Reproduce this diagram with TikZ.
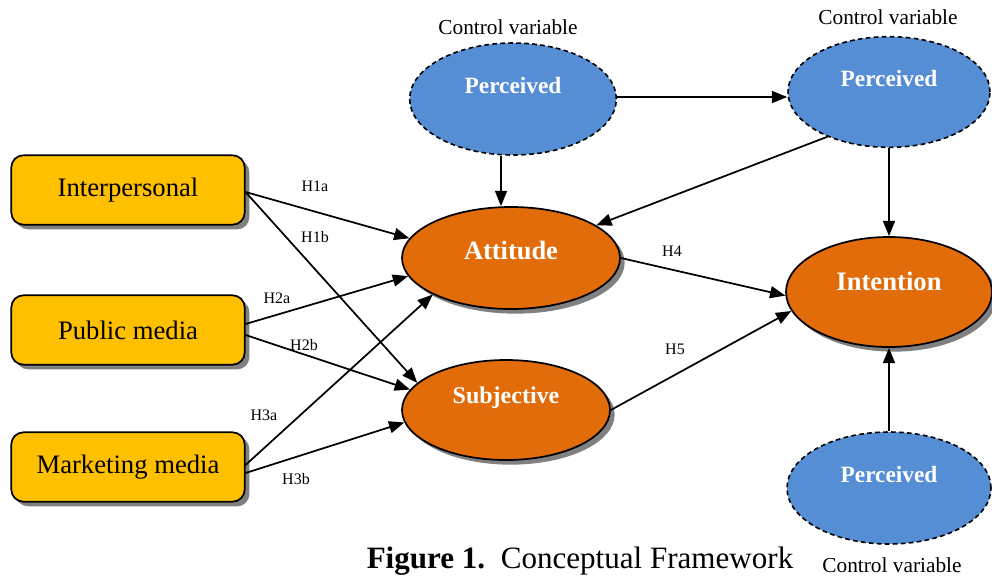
\documentclass[tikz,border=0pt]{standalone}
\usepackage{fontspec}
\setmainfont{Liberation Serif}
\usetikzlibrary{shapes.geometric,arrows.meta,shadows}
\definecolor{boxfill}{HTML}{FFC000}
\definecolor{orangefill}{HTML}{E36C0A}
\definecolor{bluefill}{HTML}{558ED5}
\definecolor{shadowgray}{HTML}{808080}
\begin{document}
\begin{tikzpicture}[x=0.75pt,y=-0.75pt,
  shad/.style={drop shadow={shadow xshift=3.5pt,shadow yshift=-3.5pt,fill=shadowgray,opacity=1}},
  srcbox/.style={draw=black,line width=1.3pt,fill=boxfill,rounded corners=9pt,
    minimum width=175pt,minimum height=52pt,inner sep=0pt,shad,
    font=\fontsize{20}{24}\selectfont},
  construct/.style={ellipse,draw=black,line width=1.3pt,fill=orangefill,inner sep=0pt,shad},
  control/.style={ellipse,draw=black,line width=1.2pt,dash pattern=on 3.5pt off 2.5pt,
    fill=bluefill,inner sep=0pt,minimum width=154pt,minimum height=84pt},
  cvtext/.style={font=\fontsize{16}{19}\selectfont},
  hlab/.style={font=\fontsize{12}{14}\selectfont,inner sep=0pt},
  arr/.style={-{Triangle[length=11.5pt,width=9pt]},line width=1.3pt,draw=black},
  wlab/.style={text=white,font=\bfseries\fontsize{#1}{22}\selectfont}
]
\useasboundingbox (0,0) rectangle (992,576);

% source boxes
\node[srcbox] (inter) at (128,190) {Interpersonal};
\node[srcbox] (pub) at (128,330) {Public media};
\node[srcbox] (mkt) at (128,467) {Marketing media};

% control variables
\node[control,minimum width=155pt,minimum height=84pt,
  label={[wlab=17.5,yshift=9.75pt]center:Perceived}] (ptl) at (513,99) {};
\node[control,minimum width=151.5pt,minimum height=83pt,
  label={[wlab=17.5,yshift=9.75pt]center:Perceived}] (ptr) at (889,92) {};
\node[control,minimum width=153pt,minimum height=84pt,
  label={[wlab=17.5,yshift=9.75pt]center:Perceived}] (pb) at (889,488) {};

\node[cvtext] (cv1) at (508,27) {Control variable};
\node[cvtext] (cv2) at (888,17) {Control variable};
\node[cvtext] (cv3) at (892,565) {Control variable};

% constructs
\node[construct,minimum width=163.5pt,minimum height=76.5pt,
  label={[wlab=19.8,yshift=6pt]center:Attitude}] (att) at (511,258) {};
\node[construct,minimum width=156pt,minimum height=75pt,
  label={[wlab=18,yshift=9pt]center:Subjective}] (subj) at (506,410) {};
\node[construct,minimum width=154.5pt,minimum height=82.5pt,
  label={[wlab=20,yshift=8.25pt]center:Intention}] (int) at (889,292) {};

% arrows
\draw[arr] ([yshift=-1.5pt]inter.east) -- (att.169);
\draw[arr] ([yshift=-1.5pt]inter.east) -- (subj.163);
\draw[arr] ([yshift=4.5pt]pub.east) -- (att.190);
\draw[arr] ([yshift=-3.75pt]pub.east) -- (subj.168);
\draw[arr] ([yshift=1.5pt]mkt.east) -- (att.205);
\draw[arr] ([yshift=-4.5pt]mkt.east) -- (subj.187);
\draw[arr] (att.east) -- (int.182);
\draw[arr] (subj.east) -- (int.191);
\draw[arr] ([yshift=1.5pt]ptl.east) -- ([yshift=1.5pt]ptl.east -| ptr.west);
\draw[arr] ([xshift=-9pt]ptl.south) -- ([xshift=-7.5pt]att.north);
\draw[arr] (ptr.216) -- (att.21);
\draw[arr] (ptr.south) -- (int.north);
\draw[arr] (pb.north) -- (int.south);

% hypothesis labels
\node[hlab] (h1a) at (315,186) {H1a};
\node[hlab] (h1b) at (315,237) {H1b};
\node[hlab] (h2a) at (277,298) {H2a};
\node[hlab] (h2b) at (304,345) {H2b};
\node[hlab] (h3a) at (264,415) {H3a};
\node[hlab] (h3b) at (296,479) {H3b};
\node[hlab] (h4) at (672,251) {H4};
\node[hlab] (h5) at (675,349) {H5};

% caption
\node[anchor=base,inner sep=0pt,font=\fontsize{23.3}{26}\selectfont] (cap) at (580,568)
  {\textbf{Figure 1.}\ \ Conceptual Framework};
\end{tikzpicture}
\end{document}
